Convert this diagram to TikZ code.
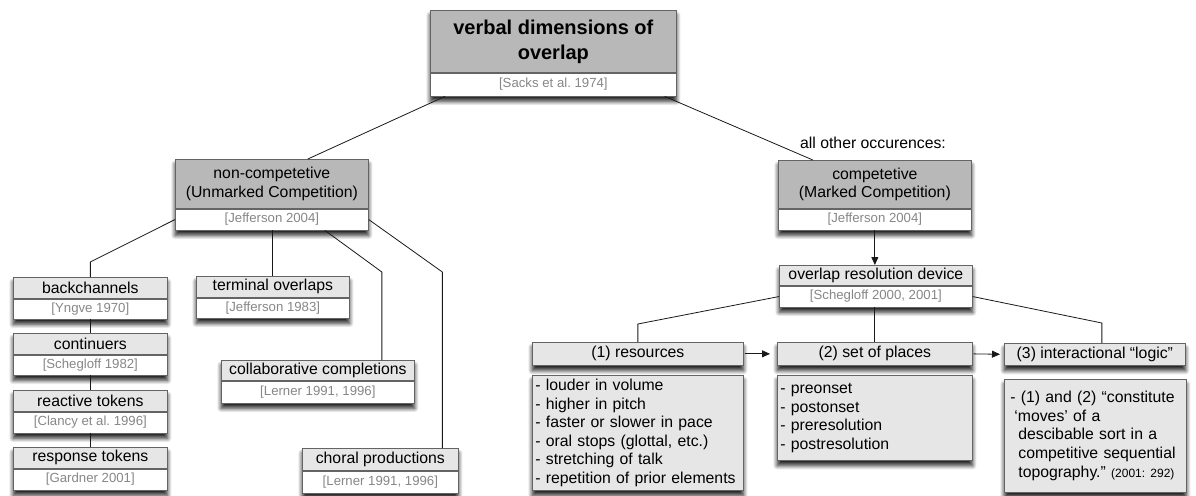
\documentclass[tikz,border=0pt]{standalone}
\usepackage{fontspec}
\setmainfont{Liberation Sans}
\usetikzlibrary{arrows.meta,shadows.blur,backgrounds,fit,calc}

\definecolor{headdark}{RGB}{184,184,184}
\definecolor{headlight}{RGB}{230,230,230}
\definecolor{boxline}{RGB}{100,100,100}
\definecolor{citegray}{RGB}{135,135,135}

\frenchspacing
\newcommand\titlefont{\fontsize{20}{25}\selectfont\bfseries}
\newcommand\headfont{\fontsize{15.8}{18.6}\selectfont}
\newcommand\citefont{\fontsize{13.2}{15}\selectfont}
\newcommand\notefont{\fontsize{12}{14}\selectfont}

\tikzset{
  box/.style={draw=boxline, line width=0.7pt, inner sep=0pt, anchor=north west,
    align=center, font=\headfont},
  darkhead/.style={box, fill=headdark},
  lighthead/.style={box, fill=headlight},
  citebox/.style={box, fill=white, text=citegray, font=\citefont},
  listbox/.style={box, fill=headlight, align=left, inner xsep=3pt},
  shade/.style={fill=white, inner sep=0pt,
    blur shadow={shadow xshift=0pt, shadow yshift=-5pt, shadow opacity=85,
      shadow blur radius=4pt, shadow blur steps=10}},
  link/.style={line width=0.8pt, draw=black!90},
  arr/.style={link, -{Triangle[length=8pt,width=7pt]}},
}

\begin{document}
\begin{tikzpicture}[x=1pt,y=-1pt]
\useasboundingbox (0,0) rectangle (1196,495);

% ---- root ----
\node[darkhead, minimum width=246pt, minimum height=62pt, font=\titlefont] (toph) at (430,10)
  {verbal dimensions of\\overlap};
\node[citebox, minimum width=246pt, minimum height=23pt] (topc) at (toph.south west) {[Sacks et al. 1974]};

% ---- non-competetive branch ----
\node[darkhead, minimum width=193pt, minimum height=49pt] (nch) at (175,159)
  {non-competetive\\(Unmarked Competition)};
\node[citebox, minimum width=193pt, minimum height=21pt] (ncc) at (nch.south west) {[Jefferson 2004]};

\node[lighthead, minimum width=154pt, minimum height=21pt] (bch) at (13,277) {backchannels};
\node[citebox, minimum width=154pt, minimum height=20pt] (bcc) at (bch.south west) {[Yngve 1970]};

\node[lighthead, minimum width=154pt, minimum height=21pt] (cnh) at (13,333) {continuers};
\node[citebox, minimum width=154pt, minimum height=20pt] (cnc) at (cnh.south west) {[Schegloff 1982]};

\node[lighthead, minimum width=154pt, minimum height=21pt] (rth) at (13,390) {reactive tokens};
\node[citebox, minimum width=154pt, minimum height=21pt] (rtc) at (rth.south west) {[Clancy et al. 1996]};

\node[lighthead, minimum width=154pt, minimum height=21pt] (rsh) at (13,447) {response tokens};
\node[citebox, minimum width=154pt, minimum height=21pt] (rsc) at (rsh.south west) {[Gardner 2001]};

\node[lighthead, minimum width=153pt, minimum height=21pt] (toh) at (196,276) {terminal overlaps};
\node[citebox, minimum width=153pt, minimum height=20pt] (toc) at (toh.south west) {[Jefferson 1983]};

\node[lighthead, minimum width=193pt, minimum height=20pt] (coh) at (221,360) {collaborative completions};
\node[citebox, minimum width=193pt, minimum height=22pt] (coc) at (coh.south west) {[Lerner 1991, 1996]};

\node[lighthead, minimum width=156pt, minimum height=22pt] (crh) at (302,448) {choral productions};
\node[citebox, minimum width=156pt, minimum height=22pt] (crc) at (crh.south west) {[Lerner 1991, 1996]};

% ---- competetive branch ----
\node[font=\headfont] (other) at (873,143) {all other occurences:};

\node[darkhead, minimum width=193pt, minimum height=48pt] (cph) at (778,160)
  {competetive\\(Marked Competition)};
\node[citebox, minimum width=193pt, minimum height=21pt] (cpc) at (cph.south west) {[Jefferson 2004]};

\node[lighthead, minimum width=193pt, minimum height=20pt] (orh) at (779,265) {overlap resolution device};
\node[citebox, minimum width=193pt, minimum height=21pt] (orc) at (orh.south west) {[Schegloff 2000, 2001]};

\node[lighthead, minimum width=211pt, minimum height=23pt] (r1h) at (532,342) {(1) resources};
\node[listbox, minimum width=211pt, minimum height=115pt, text width=205pt] (r1l) at (532,375)
  {- louder in volume\\- higher in pitch\\- faster or slower in pace\\- oral stops (glottal, etc.)\\- stretching of talk\\- repetition of prior elements};

\node[lighthead, minimum width=195pt, minimum height=23pt] (r2h) at (777,342) {(2) set of places};
\node[listbox, minimum width=195pt, minimum height=85pt, text width=189pt] (r2l) at (777,375)
  {- preonset\\- postonset\\- preresolution\\- postresolution};

\node[lighthead, minimum width=181pt, minimum height=22pt] (r3h) at (1004,343) {(3) interactional “logic”};
\node[listbox, minimum width=181pt, minimum height=113pt, text width=170pt, inner xsep=6pt] (r3l) at (1004,379)
  {- (1) and (2) “constitute\\\hspace*{4pt}‘moves’ of a\\\hspace*{8pt}descibable sort in a\\\hspace*{8pt}competitive sequential\\\hspace*{8pt}topography.” {\notefont(2001: 292)}};

% ---- drop shadows ----
\begin{pgfonlayer}{background}
  \foreach \h/\c in {toph/topc, nch/ncc, bch/bcc, cnh/cnc, rth/rtc, rsh/rsc, toh/toc,
                     coh/coc, crh/crc, cph/cpc, orh/orc}
    \node[shade, fit=(\h)(\c)] {};
  \foreach \b in {r1h, r1l, r2h, r2l, r3h, r3l}
    \node[shade, fit=(\b)] {};
\end{pgfonlayer}

% ---- connectors ----
\draw[link] ([xshift=15pt]topc.south west) -- ([xshift=36pt]nch.north);
\draw[link] ([xshift=-12pt]topc.south east) -- ([xshift=-62pt]cph.north);

\draw[link] (ncc.west) -- ([yshift=15pt]bch.north) -- (bch.north);
\draw[link] (ncc.south -| toh.north) -- (toh.north);
\draw[link] ([xshift=53pt]ncc.south) -- ([xshift=64pt,yshift=88pt]coh.north) -- ([xshift=64pt]coh.north);
\draw[link] (ncc.east) -- ([xshift=62pt,yshift=176pt]crh.north) -- ([xshift=62pt]crh.north);

\draw[link] (bcc.south) -- (cnh.north);
\draw[link] (cnc.south) -- (rth.north);
\draw[link] (rtc.south) -- (rsh.north);

\draw[arr] (cpc.south) -- (cpc.south |- orh.north);
\draw[link] (orc.west) -- ([yshift=18pt]r1h.north) -- (r1h.north);
\draw[link] (orc.south -| r2h.north) -- (r2h.north);
\draw[link] (orc.east) -- ([xshift=7pt,yshift=20pt]r3h.north) -- ([xshift=7pt]r3h.north);

\draw[arr, shorten <=1pt, shorten >=7pt] (r1h.east) -- (r2h.west);
\draw[arr, shorten <=1pt, shorten >=4pt] (r2h.east) -- (r3h.west);
\end{tikzpicture}
\end{document}
